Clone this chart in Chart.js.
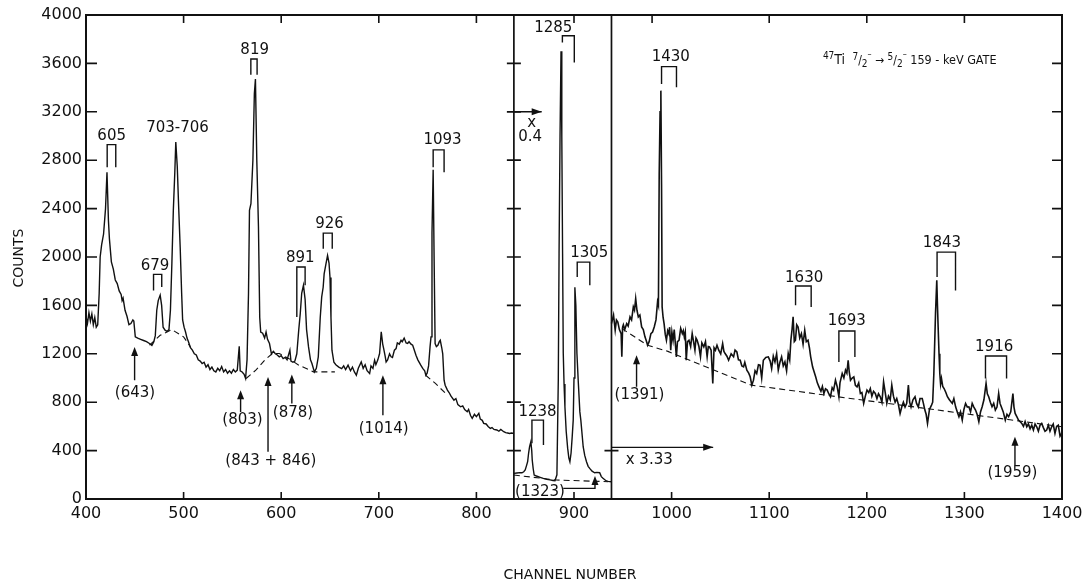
<!DOCTYPE html>
<html>
<head>
<meta charset="utf-8">
<script src="https://cdn.jsdelivr.net/npm/chart.js@4.4.0/dist/chart.umd.min.js"></script>
<style>
  html, body { margin: 0; padding: 0; background: #fff; }
</style>
</head>
<body>
<canvas id="spectrum" width="1084" height="586"></canvas>
<script>
// ticks
const xTicks = [400, 500, 600, 700, 800, 900, 1000, 1100, 1200, 1300, 1400];
const yTicks = [0, 400, 800, 1200, 1600, 2000, 2400, 2800, 3200, 3600, 4000];
const topTicks = [500, 600, 700, 800, 900, 980, 1100, 1200, 1300];
const sideTicks = [400, 800, 1200, 1600, 2000, 2400, 2800, 3200, 3600];

// panel borders (channel)
const panelSplits = [838.4, 938.4];

// spectrum, left panel (x1)  [channel, counts]
const leftSpec = [
  [400,1510],[401.5,1450],[403,1540],[404.5,1470],[406,1530],[407.5,1440],[409,1500],[410.5,1420],[412,1440],
  [413.5,1700],[414.5,2000],[416,2100],[418,2190],[420,2400],[421.5,2700],[423,2300],[424,2150],[426,1960],
  [428,1900],[430,1810],[432,1780],[434,1720],[436,1690],[437,1640],[438,1660],[440,1560],[442,1510],[444,1440],
  [446,1450],[448,1480],[449,1470],[450.5,1340],[453,1330],[456,1320],[459,1310],[462,1300],[465,1285],
  [467.5,1270],[469.5,1300],[471,1350],[472.5,1560],[474,1640],[476,1685],[477.5,1600],[479,1420],[481,1395],
  [483,1385],[485,1400],[486.5,1560],[488,1950],[489.5,2390],[491,2700],[492,2950],[493.5,2750],[495,2400],
  [496.5,2080],[498,1700],[499,1480],[500.5,1420],[502,1380],[503.5,1330],[505,1300],[507,1250],[509,1230],
  [511,1200],[513,1190],[515,1150],[517,1140],[519,1120],[521,1130],[523,1090],[525,1110],[527,1070],[529,1090],
  [531,1060],[533,1050],[535,1080],[537,1060],[539,1095],[541,1050],[543,1070],[545,1040],[547,1060],[549,1040],
  [551,1070],[553,1050],[555,1065],[557,1262],[558,1060],[560,1050],[562,1030],[563.5,996],[565,1150],
  [566.5,1700],[567.5,2385],[569,2440],[571,2800],[572.5,3350],[573.6,3470],[575,2800],[576.7,2250],[578,1500],
  [579,1380],[581,1370],[583,1330],[584.5,1380],[586,1320],[588,1285],[590,1200],[592,1220],[594,1200],
  [596,1190],[598,1175],[600,1185],[602,1160],[604,1170],[606,1150],[608.9,1230],[610,1140],[612,1130],
  [614,1140],[616,1200],[618,1400],[619.5,1530],[621,1700],[622.8,1766],[624.5,1650],[626,1400],[628,1257],
  [630,1150],[631.5,1120],[634,1050],[636,1080],[638,1175],[640,1500],[641.5,1670],[643,1750],[644,1860],
  [646,1950],[647.5,2013],[649,1950],[650,1830],[651,1500],[652,1230],[654,1130],[656,1110],[659,1090],
  [662,1078],[664,1100],[666,1070],[668.5,1106],[671,1060],[673,1090],[675,1050],[677,1023],[679,1080],
  [682,1133],[684,1080],[686,1110],[688,1060],[690.6,1037],[692,1100],[694,1080],[695.7,1147],[697,1110],
  [699,1150],[700.8,1202],[702.5,1381],[704,1280],[705,1243],[706.5,1180],[707.5,1133],[709,1150],[711,1200],
  [712.6,1175],[714,1170],[716,1230],[717.7,1243],[719,1290],[721,1280],[722.8,1312],[724,1300],[726,1330],
  [728,1290],[729.6,1285],[731,1300],[733,1280],[734.7,1271],[736,1240],[738.1,1188],[740,1150],[743,1106],
  [745,1080],[747,1060],[748.2,1023],[749.5,1040],[751,1100],[752.5,1257],[753.5,1340],[754.5,2200],
  [755.7,2720],[756.7,1972],[757.7,1285],[759,1260],[760.5,1270],[762,1300],[763,1312],[764.5,1250],
  [765.5,1200],[766.9,982],[768,940],[770.3,900],[772,880],[774,850],[777,817],[779,830],[781,780],[783.8,762],
  [786,770],[788,740],[790.6,721],[792,740],[794,690],[795.7,666],[798,700],[800,680],[802.5,707],[804,660],
  [806,650],[807.5,625],[810,620],[812,600],[814.3,583],[816,590],[818,575],[821,570],[823,560],[825,575],
  [828,556],[830,548],[832,545],[834,542],[836,545],[838.4,542]
];

// spectrum, middle panel (x 0.4)
const midSpec = [
  [838.4,212],[841.5,215],[844.5,218],[846.7,217],[848.5,225],[850,240],[851.5,280],[852.5,308],[853.5,380],
  [854.5,432],[855.8,473],[856.7,400],[857.2,322],[858.2,250],[859.2,198],[861.5,190],[865.3,179],[868.5,170],
  [872.1,162],[875.5,158],[878.5,153],[880.5,151],[882.5,200],[883.9,982],[884.7,2030],[885.7,3000],
  [886.7,3700],[887.5,3000],[888.3,2030],[889,1205],[889.8,950],[890.7,762],[892,560],[893.5,420],[894.7,340],
  [895.8,308],[897,380],[898.2,520],[899.2,652],[900,1000],[900.9,1750],[901.9,1600],[903,1202],[904.3,982],
  [906,720],[907,652],[909.4,432],[911,360],[912.8,308],[914.5,270],[916.1,253],[918.5,230],[921.2,217],
  [923.5,220],[926.3,217],[928,185],[929.7,171],[933.1,149],[935,146],[938.4,143]
];

// spectrum, right panel (x 3.33)
const rightSpec = [
  [938.4,1450],[940.5,1520],[942.2,1395],[943.5,1480],[944.9,1463],[946.5,1400],[948.3,1367],[949,1175],
  [949.8,1420],[950.6,1440],[952,1400],[954,1450],[955.5,1430],[957.4,1505],[959,1480],[960.8,1587],[962,1560],
  [963.2,1656],[964.5,1560],[965.9,1505],[967.5,1520],[969.3,1422],[971,1400],[972.7,1340],[974,1310],
  [975.4,1271],[977,1300],[978.8,1367],[980.5,1380],[982.2,1422],[984,1480],[985.6,1628],[986.5,1600],
  [987.3,2687],[988.2,3200],[989,3375],[989.7,2600],[990.3,1587],[991.3,1500],[992.3,1450],[993.5,1360],
  [994.7,1312],[996,1390],[997.1,1367],[998,1420],[999.1,1230],[1000.3,1380],[1001.5,1312],[1002.7,1400],
  [1004.9,1175],[1006,1300],[1007.6,1312],[1009.3,1410],[1011,1367],[1012,1390],[1013,1340],[1014,1380],
  [1015,1147],[1016.3,1300],[1017.8,1312],[1019.5,1260],[1021.1,1367],[1022.5,1300],[1023.9,1230],[1025,1330],
  [1026.2,1312],[1028,1260],[1029.6,1175],[1031,1290],[1033,1257],[1034.7,1300],[1036.4,1175],[1037.6,1260],
  [1038.8,1257],[1040.5,1230],[1042.2,955],[1043.5,1250],[1044.9,1230],[1046.5,1270],[1048.3,1230],
  [1050.3,1200],[1052.3,1285],[1053.6,1220],[1055,1200],[1056.7,1180],[1058.4,1147],[1061,1200],[1063.5,1175],
  [1065,1230],[1066.9,1215],[1068.5,1150],[1070.3,1147],[1072,1100],[1073.7,1092],[1075,1130],[1077.1,1065],
  [1079,1040],[1080.5,1010],[1082.2,941],[1083.9,982],[1085.5,1060],[1087.2,1037],[1089,1110],[1090.6,1106],
  [1092.3,1000],[1094,1147],[1096.5,1170],[1099.1,1175],[1101,1140],[1102.5,1078],[1104.2,1180],[1105.9,1133],
  [1107.6,1200],[1109.3,1065],[1111,1130],[1112.7,1175],[1114.4,1100],[1116.1,1133],[1117.8,1060],[1119.5,1202],
  [1121,1150],[1122.2,1312],[1123.4,1400],[1124.5,1505],[1125.7,1300],[1126.9,1312],[1128.2,1440],[1129.6,1422],
  [1131.3,1330],[1133,1367],[1134.7,1280],[1136.4,1395],[1138,1300],[1139.8,1312],[1141.2,1250],[1142.5,1175],
  [1144.5,1090],[1147.6,1010],[1149.3,960],[1151,927],[1153,890],[1154.5,930],[1156,872],[1157.7,910],
  [1159.4,900],[1161,870],[1162.8,845],[1164.5,920],[1166,900],[1167.9,982],[1169.6,930],[1171.4,845],
  [1172.5,960],[1174.8,1037],[1176.5,1000],[1178.2,1065],[1179.6,1040],[1180.9,1147],[1182,1050],[1183.3,982],
  [1185,1000],[1186.7,1010],[1188.3,940],[1190,927],[1191.7,960],[1193.4,872],[1195,880],[1196.8,790],
  [1198.5,850],[1200.2,900],[1202,880],[1203.6,913],[1205.2,850],[1206.9,890],[1208.7,872],[1210.4,830],
  [1212,870],[1213.8,845],[1215.5,800],[1217.2,968],[1218.9,880],[1220.5,790],[1222.2,850],[1224,820],
  [1225.6,941],[1227.3,850],[1229,800],[1230.7,830],[1232.4,780],[1234.1,707],[1235.8,760],[1237.5,800],
  [1239.2,760],[1240.9,790],[1242.6,941],[1243.9,800],[1245.3,760],[1247.3,820],[1249.4,845],[1251,790],
  [1252.8,760],[1254.5,830],[1256.8,830],[1258,790],[1259.5,735],[1260.8,700],[1262.2,625],[1264.2,740],
  [1266.3,776],[1267.5,800],[1268.7,1037],[1269.6,1300],[1270.4,1532],[1271.7,1807],[1272.4,1600],
  [1273.1,1420],[1274,1200],[1274.8,1037],[1275.6,950],[1276.5,996],[1277.8,930],[1279.2,913],[1281,880],
  [1282.6,845],[1284.6,820],[1287.6,790],[1289.2,830],[1291,762],[1292.7,720],[1294.4,680],[1296,720],
  [1297.8,652],[1299.5,740],[1301.2,790],[1303,760],[1304.6,762],[1306.3,720],[1308,790],[1309.7,760],
  [1311.4,735],[1313,700],[1314.8,638],[1316.5,720],[1318.2,762],[1320,820],[1322.2,955],[1323.5,870],
  [1324.9,845],[1326.6,800],[1328.3,762],[1330,790],[1331.7,735],[1333.4,760],[1335.1,872],[1336.5,790],
  [1337.8,762],[1339.8,720],[1341.9,652],[1343.6,700],[1345.3,680],[1347.5,720],[1349.7,872],[1350.8,760],
  [1352,707],[1353.7,680],[1355.4,652],[1357,640],[1358.8,625],[1360.5,600],[1362.2,640],[1363.9,597],
  [1365.6,620],[1367.3,580],[1369,610],[1370.7,570],[1372.4,620],[1374.1,597],[1375.8,560],[1377.5,610],
  [1379.2,625],[1380.9,590],[1382.6,560],[1384.3,570],[1386,610],[1387.7,560],[1389.4,597],[1391,620],
  [1392.8,542],[1394.5,600],[1396.2,610],[1398,520],[1399.6,542],[1400,580]
];

// dashed background lines (null = break)
const background = [
  [465,1271],[476,1353],[488,1400],[500,1340],[507,1257],[510,null],
  [564,996],[574,1065],[583,1147],[591,1202],[598,1202],[608,1160],[618,1106],[633,1051],[655,1051],[660,null],
  [748,1023],[758,955],[768.6,872],[775,null],
  [838.4,198],[882,157],[935,143],[937,null],
  [949,1408],[975.4,1271],[996.2,1220],[1081.8,941],[1167.3,848],[1256,753],[1346.7,655],[1400,597]
];

// peak labels: text, label x, label y, bracket left, bracket right, top, left foot, right foot
const peaks = [
  ['605', 426.3, 3000, 421.7, 430.5, 2929, 2742, 2742],
  ['679', 470.7, 1928, 469.2, 477.6, 1856, 1724, 1752],
  ['703-706', 493.8, 3064, null, null, null, null, null],
  ['819', 572.8, 3711, 568.9, 575.3, 3636, 3507, 3507],
  ['891', 619.6, 1989, 616, 624.5, 1917, 1505, 1766],
  ['926', 649.5, 2273, 643.1, 652.3, 2197, 2068, 2068],
  ['1093', 765.3, 2967, 755.7, 766.9, 2885, 2742, 2700],
  ['1238', 862.6, 721, 856.9, 868.7, 652, 460, 446],
  ['1285', 878.8, 3890, 888.1, 900.3, 3828, 3773, 3608],
  ['1305', 915.7, 2036, 903.3, 916.2, 1958, 1834, 1766],
  ['1430', 999.2, 3656, 989.7, 1005, 3573, 3430, 3402],
  ['1630', 1135.8, 1824, 1127, 1143, 1760, 1601, 1587],
  ['1693', 1179.5, 1474, 1171.4, 1187.8, 1389, 1133, 1174],
  ['1843', 1277, 2113, 1272, 1290.9, 2040, 1834, 1724],
  ['1916', 1330.5, 1254, 1321.6, 1343.2, 1182, 996, 996]
];

// weak lines: text, label x, label y, arrow x, arrow tail, arrow tip
const weak = [
  ['(643)', 450.2, 874, 449.8, 982, 1257],
  ['(803)', 560.3, 653, 558.4, 720, 899],
  ['(878)', 612.1, 708, 610.9, 790, 1029],
  ['(843 + 846)', 589.4, 317, 586.5, 390, 1009],
  ['(1014)', 705, 579, 704.2, 693, 1023],
  ['(1391)', 967.1, 860, 964.1, 927, 1188],
  ['(1959)', 1349.2, 217, 1351.8, 280, 514]
];

// gate title pieces: text, font size, vertical shift
const titleParts = [
  ['47', 10, -5], ['Ti', 14, 0], ['  ', 13, 0],
  ['7', 10, -4], ['/', 12, 0], ['2', 10, 3], ['\u2013', 9, -7],
  [' \u2192 ', 12, 0],
  ['5', 10, -4], ['/', 12, 0], ['2', 10, 3], ['\u2013', 9, -7],
  [' 159 - keV GATE', 12.5, 0]
];

const pts = arr => arr.map(p => ({ x: p[0], y: p[1] }));
const ink = '#111';
const font = "'DejaVu Sans', sans-serif";
const narrow = "'DejaVu Sans Condensed', 'DejaVu Sans', sans-serif";

function arrowHead(ctx, x, y, dir) {
  ctx.beginPath();
  if (dir === 'up') {
    ctx.moveTo(x, y); ctx.lineTo(x - 3.5, y + 9); ctx.lineTo(x + 3.5, y + 9);
  } else {
    ctx.moveTo(x, y); ctx.lineTo(x - 10, y - 3.5); ctx.lineTo(x - 10, y + 3.5);
  }
  ctx.closePath();
  ctx.fill();
}

const decor = {
  id: 'decor',
  afterDraw(chart) {
    const { ctx, chartArea: a, scales: { x, y } } = chart;
    const px = v => x.getPixelForValue(v);
    const py = v => y.getPixelForValue(v);
    ctx.save();
    ctx.strokeStyle = ink;
    ctx.fillStyle = ink;

    // frame
    ctx.lineWidth = 2;
    ctx.strokeRect(a.left, a.top, a.right - a.left, a.bottom - a.top);

    // inward ticks
    ctx.lineWidth = 1.6;
    ctx.beginPath();
    xTicks.slice(1, -1).forEach(v => { ctx.moveTo(px(v), a.bottom); ctx.lineTo(px(v), a.bottom - 7); });
    topTicks.forEach(v => { ctx.moveTo(px(v), a.top); ctx.lineTo(px(v), a.top + 8); });
    sideTicks.forEach(v => {
      ctx.moveTo(a.left, py(v)); ctx.lineTo(a.left + 11, py(v));
      ctx.moveTo(a.right, py(v)); ctx.lineTo(a.right - 10, py(v));
    });
    ctx.stroke();

    // panel borders
    ctx.lineWidth = 1.7;
    ctx.beginPath();
    panelSplits.forEach(v => { ctx.moveTo(px(v), a.top); ctx.lineTo(px(v), a.bottom); });
    sideTicks.forEach(v => { ctx.moveTo(px(panelSplits[0]) - 7, py(v)); ctx.lineTo(px(panelSplits[0]) + 7, py(v)); });
    ctx.moveTo(px(panelSplits[1]) - 7, py(400)); ctx.lineTo(px(panelSplits[1]) + 7, py(400));
    ctx.stroke();

    // scale factor arrows
    ctx.lineWidth = 1.4;
    ctx.beginPath();
    ctx.moveTo(px(panelSplits[0]), py(3200)); ctx.lineTo(px(866.9), py(3200));
    ctx.moveTo(px(panelSplits[1]), py(427)); ctx.lineTo(px(1042.6), py(427));
    ctx.stroke();
    arrowHead(ctx, px(866.9), py(3200), 'right');
    arrowHead(ctx, px(1042.6), py(427), 'right');

    // brackets
    ctx.lineWidth = 1.4;
    ctx.beginPath();
    peaks.forEach(p => {
      if (p[3] === null) return;
      ctx.moveTo(px(p[3]), py(p[6])); ctx.lineTo(px(p[3]), py(p[5]));
      ctx.lineTo(px(p[4]), py(p[5])); ctx.lineTo(px(p[4]), py(p[7]));
    });
    // weak-line arrows
    weak.forEach(w => { ctx.moveTo(px(w[3]), py(w[4])); ctx.lineTo(px(w[3]), py(w[5]) + 4); });
    // (1323) leader
    ctx.moveTo(px(889), py(88)); ctx.lineTo(px(921.5), py(88)); ctx.lineTo(px(921.5), py(190) + 4);
    ctx.stroke();
    weak.forEach(w => arrowHead(ctx, px(w[3]), py(w[5]), 'up'));
    arrowHead(ctx, px(921.5), py(190), 'up');

    // texts
    ctx.textAlign = 'center';
    ctx.textBaseline = 'middle';
    ctx.font = '15px ' + font;
    peaks.forEach(p => ctx.fillText(p[0], px(p[1]), py(p[2])));
    weak.forEach(w => ctx.fillText(w[0], px(w[1]), py(w[2])));
    ctx.fillText('(1323)', px(865.2), py(60));
    ctx.fillText('x', px(856.6), py(3110));
    ctx.fillText('0.4', px(855), py(2990));
    ctx.textAlign = 'left';
    ctx.fillText('x 3.33', px(953), py(320));

    // gate title
    ctx.textBaseline = 'alphabetic';
    let tx = px(1155);
    const ty = py(3636) + 5;
    titleParts.forEach(t => {
      ctx.font = t[1] + 'px ' + narrow;
      ctx.fillText(t[0], tx, ty + t[2]);
      tx += ctx.measureText(t[0]).width;
    });

    // axis titles
    ctx.textBaseline = 'middle';
    ctx.font = '14px ' + font;
    ctx.textAlign = 'center';
    ctx.fillText('CHANNEL NUMBER', 570, 575);
    ctx.translate(19, 258);
    ctx.rotate(-Math.PI / 2);
    ctx.fillText('COUNTS', 0, 0);
    ctx.restore();
  }
};

const lineStyle = { borderColor: ink, borderWidth: 1.4, pointRadius: 0, tension: 0, fill: false, spanGaps: false };

new Chart(document.getElementById('spectrum').getContext('2d'), {
  type: 'line',
  data: {
    datasets: [
      Object.assign({}, lineStyle, { data: pts(background), borderWidth: 1.1, borderDash: [6, 4] }),
      Object.assign({}, lineStyle, { data: pts(leftSpec) }),
      Object.assign({}, lineStyle, { data: pts(midSpec) }),
      Object.assign({}, lineStyle, { data: pts(rightSpec), borderWidth: 1.6 })
    ]
  },
  options: {
    responsive: false,
    animation: false,
    layout: { padding: { top: 15, right: 22, left: 0, bottom: 0 } },
    plugins: { legend: { display: false }, tooltip: { enabled: false } },
    scales: {
      x: {
        type: 'linear', min: 400, max: 1400,
        afterBuildTicks: s => { s.ticks = xTicks.map(v => ({ value: v })); },
        afterFit: s => { s.height = 87; s.paddingLeft = 0; s.paddingRight = 0; },
        grid: { display: false, drawTicks: false },
        border: { display: false },
        ticks: { color: ink, padding: 5, maxRotation: 0, callback: v => String(v), font: { family: font, size: 16 } }
      },
      y: {
        min: 0, max: 4000,
        afterBuildTicks: s => { s.ticks = yTicks.map(v => ({ value: v })); },
        afterFit: s => { s.width = 86; s.paddingTop = 0; s.paddingBottom = 0; },
        grid: { display: false, drawTicks: false },
        border: { display: false },
        ticks: { color: ink, padding: 4, callback: v => String(v), font: { family: font, size: 16 } }
      }
    }
  },
  plugins: [decor]
});
</script>
</body>
</html>
